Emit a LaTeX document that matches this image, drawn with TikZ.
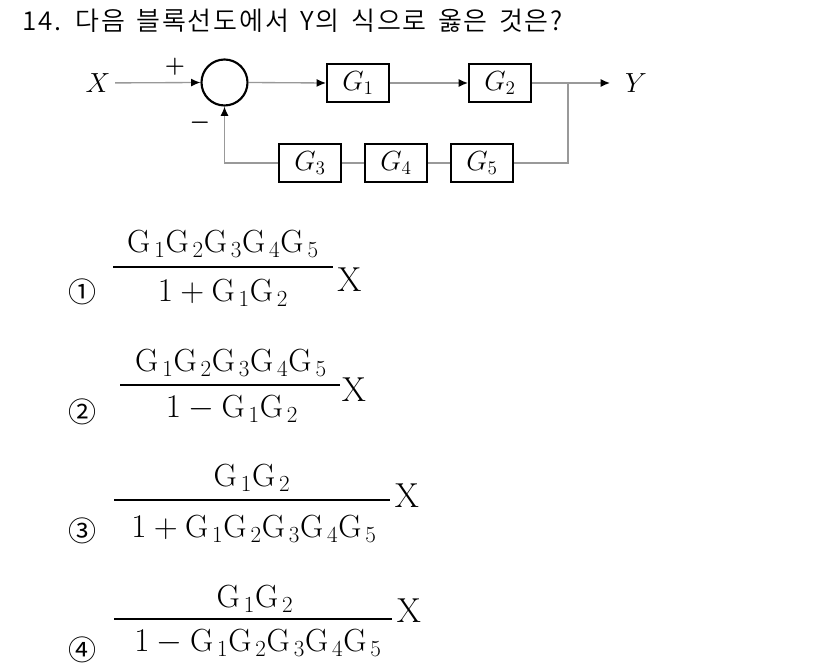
\documentclass[tikz,border=0pt]{standalone}
\usepackage{fontspec}
\usepackage{amsmath}
\usetikzlibrary{arrows.meta}
\newfontfamily\kofont[WordSpace=1.5,LetterSpace=7]{Noto Sans CJK KR DemiLight}
\newfontfamily\numfont{Noto Sans CJK KR}
\newcommand{\Gk}[1]{\mathrm{G}_{\,#1}}

\begin{document}
\begin{tikzpicture}[x=0.75pt,y=-0.75pt,
  block/.style={draw=black,line width=1.5pt,minimum width=46.5pt,minimum height=28.5pt,inner sep=0pt,font=\fontsize{20}{22}\selectfont},
  sumcirc/.style={circle,draw=black,line width=1.6pt,minimum size=34.5pt,inner sep=0pt},
  wire/.style={draw=black!40,line width=1pt},
  arr/.style={wire,-{Latex[black,length=7pt,width=6pt]}},
  frbar/.style={line width=1.2pt},
  frtxt/.style={anchor=base,inner sep=0pt,font=\fontsize{24}{28}\selectfont},
  bigx/.style={frtxt,font=\fontsize{26}{28}\selectfont},
  choice/.style={inner sep=0pt,font=\numfont\fontsize{21}{22}\selectfont}]

\useasboundingbox [fill=white] (0,0) rectangle (826,666);

\node [anchor=base west,inner sep=0pt,font=\kofont\fontsize{19.5}{22}\selectfont] (title) at (22,31)
  {14. 다음 블록선도에서 Y의 식으로 옳은 것은?};

% block diagram
\node [font=\fontsize{22}{24}\selectfont] (X) at (98,83) {$X$};
\node [sumcirc] (sum) at (224.5,82.5) {};
\node [block] (G1) at (358,83) {$G_1$};
\node [block] (G2) at (500,83) {$G_2$};
\node [block] (G3) at (310,163) {$G_3$};
\node [block] (G4) at (396,163) {$G_4$};
\node [block] (G5) at (482,163) {$G_5$};
\node [font=\fontsize{21}{22}\selectfont] (Y) at (636,83) {$Y$};
\coordinate (br) at (568,83);
\coordinate (out) at (610,83);

\node [font=\fontsize{16}{16}\selectfont] (plus) at (175,67) {$\boldsymbol{+}$};
\node [font=\fontsize{17}{17}\selectfont] (minus) at (200,123) {$\boldsymbol{-}$};

\draw [arr] (X) -- (sum.west);
\draw [arr] (sum.east) -- (G1.west);
\draw [arr] (G1.east) -- (G2.west);
\draw [arr] (G2.east) -- (out);
\draw [wire] (br) |- (G5.east);
\draw [wire] (G5.west) -- (G4.east);
\draw [wire] (G4.west) -- (G3.east);
\draw [arr] (G3.west) -| (sum.south);

% choice 1
\node [choice] (c1) at (83,292) {①};
\draw [frbar] (113,267) -- (333,267);
\node [frtxt] (n1) at (223,253) {$\Gk1\Gk2\Gk3\Gk4\Gk5$};
\node [frtxt] (d1) at (223,302) {$1+\Gk1\Gk2$};
\node [bigx] (x1) at (349.5,292) {$\mathrm{X}$};

% choice 2
\node [choice] (c2) at (83,412) {②};
\draw [frbar] (120,385) -- (340,385);
\node [frtxt] (n2) at (231,372) {$\Gk1\Gk2\Gk3\Gk4\Gk5$};
\node [frtxt] (d2) at (232,418) {$1-\Gk1\Gk2$};
\node [bigx] (x2) at (354,402) {$\mathrm{X}$};

% choice 3
\node [choice] (c3) at (83,531) {③};
\draw [frbar] (114,500) -- (390,500);
\node [frtxt] (n3) at (252,487) {$\Gk1\Gk2$};
\node [frtxt] (d3) at (254,538) {$1+\Gk1\Gk2\Gk3\Gk4\Gk5$};
\node [bigx] (x3) at (407,508) {$\mathrm{X}$};

% choice 4
\node [choice] (c4) at (83,650) {④};
\draw [frbar] (114,619) -- (392,619);
\node [frtxt] (n4) at (255,608) {$\Gk1\Gk2$};
\node [frtxt] (d4) at (258,652) {$1-\Gk1\Gk2\Gk3\Gk4\Gk5$};
\node [bigx] (x4) at (409,623) {$\mathrm{X}$};

\end{tikzpicture}
\end{document}
